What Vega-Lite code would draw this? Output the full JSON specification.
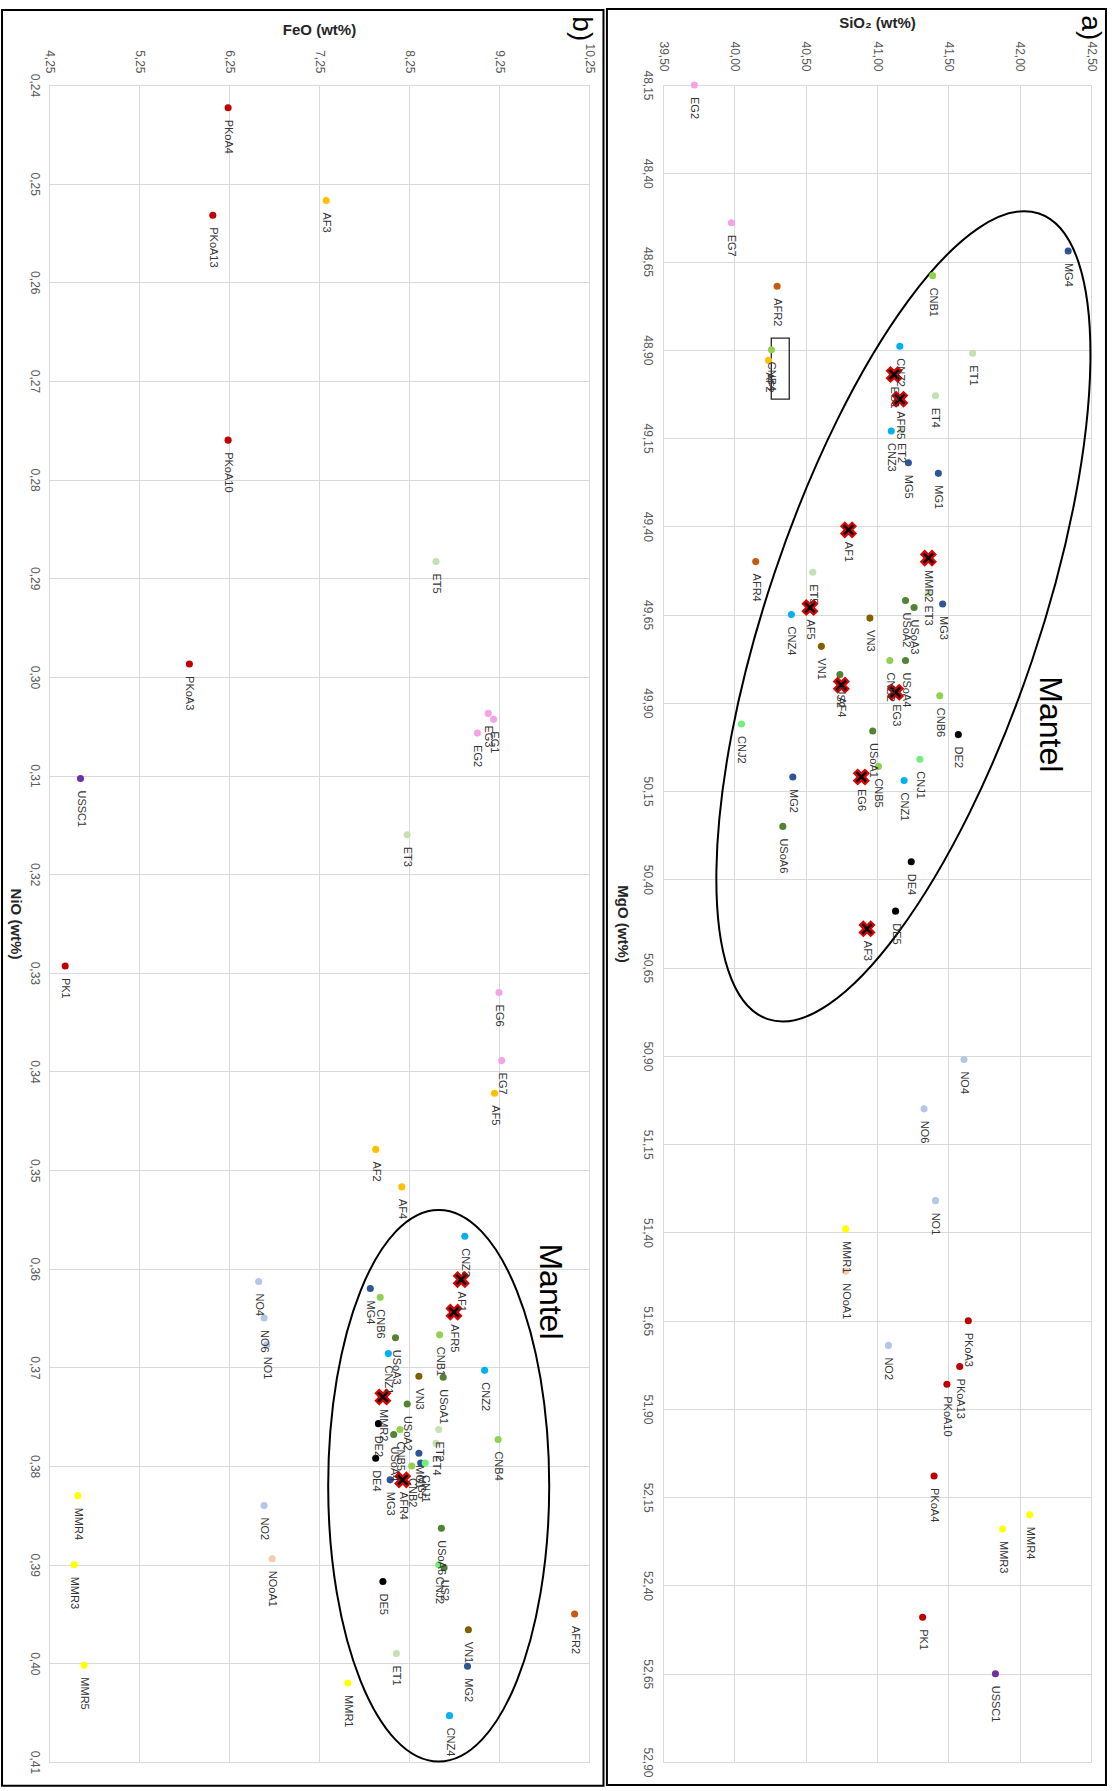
{
  "$schema": "https://vega.github.io/schema/vega-lite/v6.json",
  "padding": {"left": 1, "top": 8, "right": 0, "bottom": 0},
  "background": "white",
  "spacing": 0,
  "config": {
    "font": "Liberation Sans",
    "locale": {"number": {"decimal": ",", "thousands": ".", "grouping": [3], "currency": ["", " €"]}},
    "view": {"stroke": null},
    "axis": {
      "grid": true, "gridColor": "#d9d9d9", "gridWidth": 1, "domain": false, "ticks": false,
      "labelFont": "Liberation Sans", "labelFontSize": 12, "labelColor": "#595959",
      "labelFlush": false, "labelOverlap": false, "labelBound": false,
      "titleFont": "Liberation Sans", "titleFontSize": 15, "titleFontWeight": "bold", "titleColor": "#262626"
    }
  },
  "datasets": {
    "a": [
      {"s": "EG2", "g": "EG", "x": 39.72, "y": 48.15, "k": 0},
      {"s": "EG7", "g": "EG", "x": 39.98, "y": 48.54, "k": 0},
      {"s": "MG4", "g": "MG", "x": 42.34, "y": 48.62, "k": 0},
      {"s": "CNB1", "g": "CNB", "x": 41.39, "y": 48.69, "k": 0},
      {"s": "AFR2", "g": "AFR", "x": 40.30, "y": 48.72, "k": 0},
      {"s": "CNB4", "g": "CNB", "x": 40.26, "y": 48.90, "k": 0},
      {"s": "AF2", "g": "AF", "x": 40.24, "y": 48.93, "k": 0},
      {"s": "CNZ2", "g": "CNZ", "x": 41.16, "y": 48.89, "k": 0},
      {"s": "ET1", "g": "ET", "x": 41.67, "y": 48.91, "k": 0},
      {"s": "EG1", "g": "EG", "x": 41.12, "y": 48.97, "k": 1},
      {"s": "AFR5", "g": "AFR", "x": 41.16, "y": 49.04, "k": 1},
      {"s": "ET4", "g": "ET", "x": 41.41, "y": 49.03, "k": 0},
      {"s": "CNZ3", "g": "CNZ", "x": 41.10, "y": 49.13, "k": 0},
      {"s": "ET2", "g": "ET", "x": 41.17, "y": 49.13, "k": 0},
      {"s": "MG5", "g": "MG", "x": 41.22, "y": 49.22, "k": 0},
      {"s": "MG1", "g": "MG", "x": 41.43, "y": 49.25, "k": 0},
      {"s": "AF1", "g": "AF", "x": 40.80, "y": 49.41, "k": 1},
      {"s": "MMR2", "g": "MMR", "x": 41.36, "y": 49.49, "k": 1},
      {"s": "AFR4", "g": "AFR", "x": 40.15, "y": 49.50, "k": 0},
      {"s": "ET5", "g": "ET", "x": 40.55, "y": 49.53, "k": 0},
      {"s": "ET3", "g": "ET", "x": 41.36, "y": 49.59, "k": 0},
      {"s": "MG3", "g": "MG", "x": 41.46, "y": 49.62, "k": 0},
      {"s": "USoA2", "g": "USoA", "x": 41.20, "y": 49.61, "k": 0},
      {"s": "USoA3", "g": "USoA", "x": 41.26, "y": 49.63, "k": 0},
      {"s": "AF5", "g": "AF", "x": 40.53, "y": 49.63, "k": 1},
      {"s": "CNZ4", "g": "CNZ", "x": 40.40, "y": 49.65, "k": 0},
      {"s": "VN3", "g": "VN", "x": 40.95, "y": 49.66, "k": 0},
      {"s": "VN1", "g": "VN", "x": 40.61, "y": 49.74, "k": 0},
      {"s": "CNB2", "g": "CNB", "x": 41.09, "y": 49.78, "k": 0},
      {"s": "USoA4", "g": "USoA", "x": 41.20, "y": 49.78, "k": 0},
      {"s": "US2", "g": "USoA", "x": 40.74, "y": 49.82, "k": 0},
      {"s": "AF4", "g": "AF", "x": 40.75, "y": 49.85, "k": 1},
      {"s": "EG3", "g": "EG", "x": 41.13, "y": 49.87, "k": 1},
      {"s": "CNB6", "g": "CNB", "x": 41.44, "y": 49.88, "k": 0},
      {"s": "CNJ2", "g": "CNJ", "x": 40.05, "y": 49.96, "k": 0},
      {"s": "USoA1", "g": "USoA", "x": 40.97, "y": 49.98, "k": 0},
      {"s": "DE2", "g": "DE", "x": 41.57, "y": 49.99, "k": 0},
      {"s": "CNJ1", "g": "CNJ", "x": 41.30, "y": 50.06, "k": 0},
      {"s": "CNB5", "g": "CNB", "x": 41.01, "y": 50.08, "k": 0},
      {"s": "MG2", "g": "MG", "x": 40.41, "y": 50.11, "k": 0},
      {"s": "EG6", "g": "EG", "x": 40.89, "y": 50.11, "k": 1},
      {"s": "CNZ1", "g": "CNZ", "x": 41.19, "y": 50.12, "k": 0},
      {"s": "USoA6", "g": "USoA", "x": 40.34, "y": 50.25, "k": 0},
      {"s": "DE4", "g": "DE", "x": 41.24, "y": 50.35, "k": 0},
      {"s": "DE5", "g": "DE", "x": 41.13, "y": 50.49, "k": 0},
      {"s": "AF3", "g": "AF", "x": 40.93, "y": 50.54, "k": 1},
      {"s": "NO4", "g": "NO", "x": 41.61, "y": 50.91, "k": 0},
      {"s": "NO6", "g": "NO", "x": 41.33, "y": 51.05, "k": 0},
      {"s": "NO1", "g": "NO", "x": 41.41, "y": 51.31, "k": 0},
      {"s": "MMR1", "g": "MMR", "x": 40.78, "y": 51.39, "k": 0},
      {"s": "NOoA1", "g": "NOoA", "x": 40.78, "y": 51.51, "k": 0},
      {"s": "PKoA3", "g": "PK", "x": 41.64, "y": 51.65, "k": 0},
      {"s": "NO2", "g": "NO", "x": 41.08, "y": 51.72, "k": 0},
      {"s": "PKoA13", "g": "PK", "x": 41.58, "y": 51.78, "k": 0},
      {"s": "PKoA10", "g": "PK", "x": 41.49, "y": 51.83, "k": 0},
      {"s": "PKoA4", "g": "PK", "x": 41.40, "y": 52.09, "k": 0},
      {"s": "MMR4", "g": "MMR", "x": 42.07, "y": 52.20, "k": 0},
      {"s": "MMR3", "g": "MMR", "x": 41.88, "y": 52.24, "k": 0},
      {"s": "PK1", "g": "PK", "x": 41.32, "y": 52.49, "k": 0},
      {"s": "USSC1", "g": "USSC", "x": 41.83, "y": 52.65, "k": 0}
    ],
    "b": [
      {"s": "PKoA4", "g": "PK", "x": 6.24, "y": 0.2423, "k": 0},
      {"s": "AF3", "g": "AF", "x": 7.33, "y": 0.2517, "k": 0},
      {"s": "PKoA13", "g": "PK", "x": 6.07, "y": 0.2532, "k": 0},
      {"s": "PKoA10", "g": "PK", "x": 6.24, "y": 0.2760, "k": 0},
      {"s": "ET5", "g": "ET", "x": 8.55, "y": 0.2883, "k": 0},
      {"s": "PKoA3", "g": "PK", "x": 5.81, "y": 0.2987, "k": 0},
      {"s": "EG1", "g": "EG", "x": 9.19, "y": 0.3043, "k": 0},
      {"s": "EG3", "g": "EG", "x": 9.13, "y": 0.3037, "k": 0},
      {"s": "EG2", "g": "EG", "x": 9.01, "y": 0.3057, "k": 0},
      {"s": "USSC1", "g": "USSC", "x": 4.60, "y": 0.3103, "k": 0},
      {"s": "ET3", "g": "ET", "x": 8.23, "y": 0.3160, "k": 0},
      {"s": "PK1", "g": "PK", "x": 4.43, "y": 0.3293, "k": 0},
      {"s": "EG6", "g": "EG", "x": 9.25, "y": 0.3320, "k": 0},
      {"s": "EG7", "g": "EG", "x": 9.28, "y": 0.3389, "k": 0},
      {"s": "AF5", "g": "AF", "x": 9.20, "y": 0.3422, "k": 0},
      {"s": "AF2", "g": "AF", "x": 7.88, "y": 0.3479, "k": 0},
      {"s": "AF4", "g": "AF", "x": 8.17, "y": 0.3517, "k": 0},
      {"s": "CNZ3", "g": "CNZ", "x": 8.87, "y": 0.3567, "k": 0},
      {"s": "AF1", "g": "AF", "x": 8.83, "y": 0.3611, "k": 1},
      {"s": "NO4", "g": "NO", "x": 6.58, "y": 0.3613, "k": 0},
      {"s": "MG4", "g": "MG", "x": 7.82, "y": 0.3620, "k": 0},
      {"s": "CNB6", "g": "CNB", "x": 7.93, "y": 0.3629, "k": 0},
      {"s": "AFR5", "g": "AFR", "x": 8.75, "y": 0.3644, "k": 1},
      {"s": "NO6", "g": "NO", "x": 6.64, "y": 0.3650, "k": 0},
      {"s": "NO1", "g": "NO", "x": 6.67, "y": 0.3677, "k": 0},
      {"s": "CNB1", "g": "CNB", "x": 8.59, "y": 0.3667, "k": 0},
      {"s": "USoA3", "g": "USoA", "x": 8.10, "y": 0.3670, "k": 0},
      {"s": "CNZ1", "g": "CNZ", "x": 8.02, "y": 0.3686, "k": 0},
      {"s": "CNZ2", "g": "CNZ", "x": 9.09, "y": 0.3703, "k": 0},
      {"s": "VN3", "g": "VN", "x": 8.36, "y": 0.3709, "k": 0},
      {"s": "USoA1", "g": "USoA", "x": 8.63, "y": 0.3710, "k": 0},
      {"s": "MMR2", "g": "MMR", "x": 7.96, "y": 0.3730, "k": 1},
      {"s": "USoA2", "g": "USoA", "x": 8.23, "y": 0.3737, "k": 0},
      {"s": "DE2", "g": "DE", "x": 7.91, "y": 0.3757, "k": 0},
      {"s": "CNB5", "g": "CNB", "x": 8.15, "y": 0.3763, "k": 0},
      {"s": "ET2", "g": "ET", "x": 8.58, "y": 0.3763, "k": 0},
      {"s": "USoA4", "g": "USoA", "x": 8.08, "y": 0.3768, "k": 0},
      {"s": "CNB4", "g": "CNB", "x": 9.24, "y": 0.3773, "k": 0},
      {"s": "ET4", "g": "ET", "x": 8.55, "y": 0.3777, "k": 0},
      {"s": "MG1", "g": "MG", "x": 8.36, "y": 0.3787, "k": 0},
      {"s": "DE4", "g": "DE", "x": 7.88, "y": 0.3792, "k": 0},
      {"s": "MG5", "g": "MG", "x": 8.38, "y": 0.3797, "k": 0},
      {"s": "CNJ1", "g": "CNJ", "x": 8.43, "y": 0.3797, "k": 0},
      {"s": "CNB2", "g": "CNB", "x": 8.28, "y": 0.3800, "k": 0},
      {"s": "AFR4", "g": "AFR", "x": 8.18, "y": 0.3814, "k": 1},
      {"s": "MG3", "g": "MG", "x": 8.04, "y": 0.3814, "k": 0},
      {"s": "MMR4", "g": "MMR", "x": 4.57, "y": 0.3830, "k": 0},
      {"s": "NO2", "g": "NO", "x": 6.64, "y": 0.3840, "k": 0},
      {"s": "USoA6", "g": "USoA", "x": 8.61, "y": 0.3863, "k": 0},
      {"s": "NOoA1", "g": "NOoA", "x": 6.73, "y": 0.3894, "k": 0},
      {"s": "MMR3", "g": "MMR", "x": 4.53, "y": 0.3900, "k": 0},
      {"s": "US2", "g": "USoA", "x": 8.64, "y": 0.3903, "k": 0},
      {"s": "CNJ2", "g": "CNJ", "x": 8.58, "y": 0.3900, "k": 0},
      {"s": "DE5", "g": "DE", "x": 7.96, "y": 0.3917, "k": 0},
      {"s": "AFR2", "g": "AFR", "x": 10.09, "y": 0.3950, "k": 0},
      {"s": "VN1", "g": "VN", "x": 8.91, "y": 0.3966, "k": 0},
      {"s": "ET1", "g": "ET", "x": 8.11, "y": 0.3990, "k": 0},
      {"s": "MG2", "g": "MG", "x": 8.90, "y": 0.4003, "k": 0},
      {"s": "MMR5", "g": "MMR", "x": 4.64, "y": 0.4002, "k": 0},
      {"s": "MMR1", "g": "MMR", "x": 7.57, "y": 0.4020, "k": 0},
      {"s": "CNZ4", "g": "CNZ", "x": 8.70, "y": 0.4053, "k": 0}
    ]
  },
  "hconcat": [
    {
      "width": 540,
      "height": 1677,
      "data": {"name": "b"},
      "layer": [
        {
          "data": {"values": [{}]},
          "mark": {"type": "rect", "filled": false, "color": "black", "strokeWidth": 2},
          "encoding": {
            "x": {"datum": 3.728, "type": "quantitative", "scale": {"domain": [4.25, 10.25], "nice": false, "zero": false}},
            "x2": {"datum": 10.411},
            "y": {"datum": 0.2324, "type": "quantitative", "scale": {"domain": [0.24, 0.41], "nice": false, "zero": false, "reverse": true}},
            "y2": {"datum": 0.4124}
          }
        },
        {
          "data": {"values": [{}]},
          "mark": {"type": "point", "shape": "M0,-1C0.2213,-1 0.4007,-0.5523 0.4007,0C0.4007,0.5523 0.2213,1 0,1C-0.2213,1 -0.4007,0.5523 -0.4007,0C-0.4007,-0.5523 -0.2213,-1 0,-1Z", "size": 304263, "filled": false, "color": "black", "strokeWidth": 2, "opacity": 1},
          "encoding": {
            "x": {"datum": 8.58, "type": "quantitative", "scale": {"domain": [4.25, 10.25], "nice": false, "zero": false}},
            "y": {"datum": 0.382, "type": "quantitative", "scale": {"domain": [0.24, 0.41], "nice": false, "zero": false, "reverse": true}}
          }
        },
        {
          "mark": {"type": "point", "shape": "circle", "filled": true, "size": 50, "opacity": 1},
          "encoding": {
            "x": {"field": "x", "type": "quantitative", "scale": {"domain": [4.25, 10.25], "nice": false, "zero": false},
              "axis": {"orient": "top", "values": [4.25, 5.25, 6.25, 7.25, 8.25, 9.25, 10.25], "format": ".2f", "labelAngle": 90, "labelAlign": "right", "labelBaseline": "middle", "labelPadding": 12, "title": "FeO (wt%)", "titlePadding": 5}},
            "y": {"field": "y", "type": "quantitative", "scale": {"domain": [0.24, 0.41], "nice": false, "zero": false, "reverse": true},
              "axis": {"values": [0.24, 0.25, 0.26, 0.27, 0.28, 0.29, 0.30, 0.31, 0.32, 0.33, 0.34, 0.35, 0.36, 0.37, 0.38, 0.39, 0.40, 0.41], "format": ".2f", "labelAngle": 90, "labelAlign": "center", "labelBaseline": "top", "labelPadding": 10, "title": "NiO (wt%)", "titleAngle": 90, "titleBaseline": "top", "titlePadding": 6}},
            "color": {"field": "g", "type": "nominal", "legend": null,
              "scale": {"domain": ["EG", "MG", "CNB", "CNZ", "CNJ", "ET", "AFR", "AF", "USoA", "VN", "DE", "NO", "NOoA", "MMR", "PK", "USSC"],
                        "range": ["#f5a3e3", "#2f5597", "#92d050", "#00b0f0", "#6ff07a", "#c5e0b4", "#c55a11", "#ffc000", "#548235", "#7f6000", "#000000", "#b4c7e7", "#f8cbad", "#ffff00", "#c00000", "#7030a0"]}}
          }
        },
        {
          "transform": [{"filter": "datum.k == 1"}],
          "mark": {"type": "point", "shape": "cross", "angle": 45, "size": 300, "filled": true, "color": "#e00000", "opacity": 1},
          "encoding": {
            "x": {"field": "x", "type": "quantitative", "scale": {"domain": [4.25, 10.25], "nice": false, "zero": false}},
            "y": {"field": "y", "type": "quantitative", "scale": {"domain": [0.24, 0.41], "nice": false, "zero": false, "reverse": true}}
          }
        },
        {
          "transform": [{"filter": "datum.k == 1"}],
          "mark": {"type": "point", "shape": "M-1,-1L1,1M-1,1L1,-1", "size": 90, "filled": false, "color": "black", "strokeWidth": 2.5, "opacity": 1},
          "encoding": {
            "x": {"field": "x", "type": "quantitative", "scale": {"domain": [4.25, 10.25], "nice": false, "zero": false}},
            "y": {"field": "y", "type": "quantitative", "scale": {"domain": [0.24, 0.41], "nice": false, "zero": false, "reverse": true}}
          }
        },
        {
          "mark": {"type": "text", "angle": 90, "align": "left", "baseline": "middle", "dx": 12, "fontSize": 11, "font": "Liberation Sans", "color": "#333333"},
          "encoding": {
            "x": {"field": "x", "type": "quantitative", "scale": {"domain": [4.25, 10.25], "nice": false, "zero": false}},
            "y": {"field": "y", "type": "quantitative", "scale": {"domain": [0.24, 0.41], "nice": false, "zero": false, "reverse": true}},
            "text": {"field": "s"}
          }
        },
        {
          "data": {"values": [{}]},
          "mark": {"type": "text", "text": "Mantel", "angle": 90, "align": "center", "baseline": "middle", "fontSize": 32, "font": "Liberation Sans", "color": "black"},
          "encoding": {
            "x": {"datum": 9.817, "type": "quantitative", "scale": {"domain": [4.25, 10.25], "nice": false, "zero": false}},
            "y": {"datum": 0.3623, "type": "quantitative", "scale": {"domain": [0.24, 0.41], "nice": false, "zero": false, "reverse": true}}
          }
        },
        {
          "data": {"values": [{}]},
          "mark": {"type": "text", "text": "b)", "angle": 90, "align": "center", "baseline": "middle", "fontSize": 28, "font": "Liberation Sans", "color": "black"},
          "encoding": {
            "x": {"datum": 10.164, "type": "quantitative", "scale": {"domain": [4.25, 10.25], "nice": false, "zero": false}},
            "y": {"datum": 0.2343, "type": "quantitative", "scale": {"domain": [0.24, 0.41], "nice": false, "zero": false, "reverse": true}}
          }
        }
      ]
    },
    {
      "width": 428,
      "height": 1677,
      "data": {"name": "a"},
      "layer": [
        {
          "data": {"values": [{}]},
          "mark": {"type": "rect", "filled": false, "color": "black", "strokeWidth": 2},
          "encoding": {
            "x": {"datum": 39.107, "type": "quantitative", "scale": {"domain": [39.5, 42.5], "nice": false, "zero": false}},
            "x2": {"datum": 42.605},
            "y": {"datum": 47.935, "type": "quantitative", "scale": {"domain": [48.15, 52.9], "nice": false, "zero": false, "reverse": true}},
            "y2": {"datum": 52.965}
          }
        },
        {
          "data": {"values": [{}]},
          "mark": {"type": "rect", "filled": false, "color": "#262626", "strokeWidth": 1.3},
          "encoding": {
            "x": {"datum": 40.259, "type": "quantitative", "scale": {"domain": [39.5, 42.5], "nice": false, "zero": false}},
            "x2": {"datum": 40.385},
            "y": {"datum": 48.867, "type": "quantitative", "scale": {"domain": [48.15, 52.9], "nice": false, "zero": false, "reverse": true}},
            "y2": {"datum": 49.04}
          }
        },
        {
          "data": {"values": [{}]},
          "mark": {"type": "point", "shape": "M0,-1C0.1767,-1 0.32,-0.5523 0.32,0C0.32,0.5523 0.1767,1 0,1C-0.1767,1 -0.32,0.5523 -0.32,0C-0.32,-0.5523 -0.1767,-1 0,-1Z", "size": 722500, "angle": 18.6, "filled": false, "color": "black", "strokeWidth": 2, "opacity": 1},
          "encoding": {
            "x": {"datum": 41.185, "type": "quantitative", "scale": {"domain": [39.5, 42.5], "nice": false, "zero": false}},
            "y": {"datum": 49.655, "type": "quantitative", "scale": {"domain": [48.15, 52.9], "nice": false, "zero": false, "reverse": true}}
          }
        },
        {
          "mark": {"type": "point", "shape": "circle", "filled": true, "size": 50, "opacity": 1},
          "encoding": {
            "x": {"field": "x", "type": "quantitative", "scale": {"domain": [39.5, 42.5], "nice": false, "zero": false},
              "axis": {"orient": "top", "values": [39.5, 40, 40.5, 41, 41.5, 42, 42.5], "format": ".2f", "labelAngle": 90, "labelAlign": "right", "labelBaseline": "middle", "labelPadding": 14, "title": "SiO₂ (wt%)", "titlePadding": 10}},
            "y": {"field": "y", "type": "quantitative", "scale": {"domain": [48.15, 52.9], "nice": false, "zero": false, "reverse": true},
              "axis": {"values": [48.15, 48.4, 48.65, 48.9, 49.15, 49.4, 49.65, 49.9, 50.15, 50.4, 50.65, 50.9, 51.15, 51.4, 51.65, 51.9, 52.15, 52.4, 52.65, 52.9], "format": ".2f", "labelAngle": 90, "labelAlign": "center", "labelBaseline": "top", "labelPadding": 11, "title": "MgO (wt%)", "titleAngle": 90, "titleBaseline": "top", "titlePadding": 12}},
            "color": {"field": "g", "type": "nominal", "legend": null,
              "scale": {"domain": ["EG", "MG", "CNB", "CNZ", "CNJ", "ET", "AFR", "AF", "USoA", "VN", "DE", "NO", "NOoA", "MMR", "PK", "USSC"],
                        "range": ["#f5a3e3", "#2f5597", "#92d050", "#00b0f0", "#6ff07a", "#c5e0b4", "#c55a11", "#ffc000", "#548235", "#7f6000", "#000000", "#b4c7e7", "#f8cbad", "#ffff00", "#c00000", "#7030a0"]}}
          }
        },
        {
          "transform": [{"filter": "datum.k == 1"}],
          "mark": {"type": "point", "shape": "cross", "angle": 45, "size": 300, "filled": true, "color": "#e00000", "opacity": 1},
          "encoding": {
            "x": {"field": "x", "type": "quantitative", "scale": {"domain": [39.5, 42.5], "nice": false, "zero": false}},
            "y": {"field": "y", "type": "quantitative", "scale": {"domain": [48.15, 52.9], "nice": false, "zero": false, "reverse": true}}
          }
        },
        {
          "transform": [{"filter": "datum.k == 1"}],
          "mark": {"type": "point", "shape": "M-1,-1L1,1M-1,1L1,-1", "size": 90, "filled": false, "color": "black", "strokeWidth": 2.5, "opacity": 1},
          "encoding": {
            "x": {"field": "x", "type": "quantitative", "scale": {"domain": [39.5, 42.5], "nice": false, "zero": false}},
            "y": {"field": "y", "type": "quantitative", "scale": {"domain": [48.15, 52.9], "nice": false, "zero": false, "reverse": true}}
          }
        },
        {
          "mark": {"type": "text", "angle": 90, "align": "left", "baseline": "middle", "dx": 12, "fontSize": 11, "font": "Liberation Sans", "color": "#333333"},
          "encoding": {
            "x": {"field": "x", "type": "quantitative", "scale": {"domain": [39.5, 42.5], "nice": false, "zero": false}},
            "y": {"field": "y", "type": "quantitative", "scale": {"domain": [48.15, 52.9], "nice": false, "zero": false, "reverse": true}},
            "text": {"field": "s"}
          }
        },
        {
          "data": {"values": [{}]},
          "mark": {"type": "text", "text": "Mantel", "angle": 90, "align": "center", "baseline": "middle", "fontSize": 32, "font": "Liberation Sans", "color": "black"},
          "encoding": {
            "x": {"datum": 42.213, "type": "quantitative", "scale": {"domain": [39.5, 42.5], "nice": false, "zero": false}},
            "y": {"datum": 49.961, "type": "quantitative", "scale": {"domain": [48.15, 52.9], "nice": false, "zero": false, "reverse": true}}
          }
        },
        {
          "data": {"values": [{}]},
          "mark": {"type": "text", "text": "a)", "angle": 90, "align": "center", "baseline": "middle", "fontSize": 28, "font": "Liberation Sans", "color": "black"},
          "encoding": {
            "x": {"datum": 42.493, "type": "quantitative", "scale": {"domain": [39.5, 42.5], "nice": false, "zero": false}},
            "y": {"datum": 47.988, "type": "quantitative", "scale": {"domain": [48.15, 52.9], "nice": false, "zero": false, "reverse": true}}
          }
        }
      ]
    }
  ]
}
